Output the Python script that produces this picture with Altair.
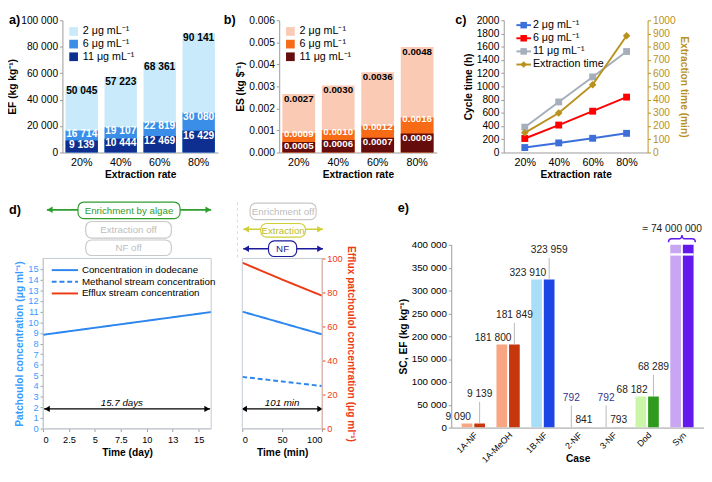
import altair as alt
import pandas as pd

FONT = "Liberation Sans"

# ---------------- data ----------------
rates = ["20%", "40%", "60%", "80%"]
conc = ["2 μg mL⁻¹", "6 μg mL⁻¹", "11 μg mL⁻¹"]

ef_2 = [50045, 57223, 68361, 90141]
ef_6 = [16714, 19107, 22819, 30080]
ef_11 = [9139, 10444, 12469, 16429]

es_2 = [0.00266, 0.00304, 0.00364, 0.00479]
es_6 = [0.00088, 0.00101, 0.00121, 0.00159]
es_11 = [0.00048, 0.00057, 0.00067, 0.00086]

cyc_2 = [75, 145, 215, 290]
cyc_6 = [212, 415, 625, 838]
cyc_11 = [383, 765, 1143, 1528]
ext_min = [149, 299, 513, 883]

d_series = ["Concentration in dodecane", "Methanol stream concentration",
            "Efflux stream concentration"]
day_t = [0, 16.2]
day_dod = [8.82, 10.96]
min_t = [0, 50, 100]
min_dod = [11.0, 9.93, 8.86]
min_meth = [4.86, 4.43, 4.0]
min_eff = [97.5, 87.6, 78.1]
d_ticks = list(range(16))

cases = ["1A-NF", "1A-MeOH", "1B-NF", "2-NF", "3-NF", "Dod", "Syn"]
sc_vals = [9090, 181800, 323910, 792, 792, 68182, 74000000]
ef_vals = [9139, 181849, 323959, 841, 793, 68289, 74000000]

# ---------------- styles ----------------
A_COL = ["#C8EAFA", "#3A8EE8", "#0E2F8F"]
B_COL = ["#FBCAB5", "#F76B16", "#650C0C"]
GOLD = "#B8921C"
C_COL = ["#3D6FDB", "#FF0000", "#A5AEBB", GOLD]
D_BLUE = "#2B86F0"
D_RED = "#EE3A14"
D_LBL_BLUE = "#3A9BFF"
SC_COL = ["#F7A583", "#F7A583", "#A9DEF8", "#C9C6F2", "#C9C6F2", "#CBF5A9", "#C9A6F3"]
EF_COL = ["#C7370E", "#C7370E", "#1B45E4", "#8C8C8C", "#8C8C8C", "#2E9B1F", "#6318EE"]
PURPLE = "#6318EE"
GREEN = "#2E9E2E"
GRAYBOX = "#C8C8C8"
YEL = "#CFCF3A"
NAVY = "#1A1A9A"
AXC = "#999999"
FRAME = "#C3C9D2"

H_TOP = 136
D_SHIFT = 20      # d1 frame starts this many px left of the row origin
D_TOP = 14        # d frames start this many px below the bottom-row origin
D_H = 175
E_H = 188

one = pd.DataFrame({"k": [0]})
THIN = "replace(format(datum.value, ','), regexp(',', 'g'), ' ')"


def thin(v):
    return f"{v:,}".replace(",", " ")


def letter(t, x, y):
    return alt.Chart(one).mark_text(text=t, align="left", baseline="top", fontSize=13,
                                    fontWeight="bold", color="black").encode(
        x=alt.value(x), y=alt.value(y))


def box(x1, x2, y1, y2, label, stroke, tcol):
    r = alt.Chart(one).mark_rect(cornerRadius=6, fill="white", stroke=stroke,
                                 strokeWidth=1.2).encode(
        x=alt.value(x1), x2=alt.value(x2), y=alt.value(y1), y2=alt.value(y2))
    t = alt.Chart(one).mark_text(text=label, color=tcol, fontSize=10).encode(
        x=alt.value((x1 + x2) / 2), y=alt.value((y1 + y2) / 2 + 0.5))
    return [r, t]


def frame(x1, x2, y1, y2):
    return alt.Chart(one).mark_rect(fillOpacity=0, stroke=FRAME, strokeWidth=1).encode(
        x=alt.value(x1), x2=alt.value(x2), y=alt.value(y1), y2=alt.value(y2))


def parrow(x1, x2, y, color):
    r = alt.Chart(one).mark_rule(color=color, strokeWidth=1.6).encode(
        x=alt.value(x1), x2=alt.value(x2), y=alt.value(y))
    a1 = alt.Chart(one).mark_point(shape="triangle-left", filled=True, size=45, color=color,
                                   opacity=1).encode(x=alt.value(x1 + 3), y=alt.value(y))
    a2 = alt.Chart(one).mark_point(shape="triangle-right", filled=True, size=45, color=color,
                                   opacity=1).encode(x=alt.value(x2 - 3), y=alt.value(y))
    return [r, a1, a2]


def leg_entry(x1, x2, y, color, label, tx, fs, dash=None, marker=None):
    rk = dict(color=color, strokeWidth=2)
    if dash:
        rk["strokeDash"] = dash
    out = [alt.Chart(one).mark_rule(**rk).encode(x=alt.value(x1), x2=alt.value(x2),
                                                 y=alt.value(y)),
           alt.Chart(one).mark_text(text=label, align="left", baseline="middle", fontSize=fs,
                                    color="black").encode(x=alt.value(tx), y=alt.value(y))]
    if marker:
        out.append(alt.Chart(one).mark_point(shape=marker, filled=True, size=45, color=color,
                                             opacity=1).encode(
            x=alt.value((x1 + x2) / 2), y=alt.value(y)))
    return out


def xaxis_top():
    return alt.Axis(labelAngle=0, ticks=False, labelFontSize=11, titleFontSize=10.5,
                    titleFontWeight="bold", domainColor=AXC, labelPadding=4, titlePadding=3,
                    grid=False)


# ---------------- panels a & b ----------------
def bar_panel(series, colors, dom, tickvals, axis_fmt, txt_fmt, ytitle, let, let_x, W, lfs,
              dys):
    rows = []
    for i, (lab, vals) in enumerate(zip(conc, series)):
        for r, v in zip(rates, vals):
            rows.append({"rate": r, "conc": lab, "v": v, "o": i, "txt": txt_fmt(v)})
    df = pd.DataFrame(rows)
    x = alt.X("rate:N", sort=rates, title="Extraction rate",
              scale=alt.Scale(paddingInner=0.17, paddingOuter=0.08), axis=xaxis_top())
    yaxis = alt.Axis(values=tickvals, tickCount=20, grid=False, tickSize=3, tickColor=AXC,
                     domainColor=AXC, labelFontSize=10.5, labelPadding=2, titlePadding=3,
                     titleFontSize=10.5, titleFontWeight="bold", **axis_fmt)
    y = alt.Y("v:Q", stack=None, scale=alt.Scale(domain=dom), title=ytitle, axis=yaxis)
    base = alt.Chart(df).encode(x=x, y=y)
    leg = alt.Legend(title=None, orient="top-left", offset=6, symbolType="square",
                     symbolSize=80, labelFontSize=11, rowPadding=1, padding=0,
                     symbolStrokeWidth=0, labelColor="black")
    bars = base.mark_bar().encode(
        color=alt.Color("conc:N", sort=conc, scale=alt.Scale(domain=conc, range=colors),
                        legend=leg),
        order=alt.Order("o:Q"))
    texts = []
    for i in range(3):
        texts.append(base.mark_text(baseline="middle", dy=dys[i], fontWeight="bold",
                                    fontSize=lfs, color="black" if i == 0 else "white")
                     .encode(text="txt:N").transform_filter(alt.datum.o == i))
    return alt.layer(bars, *texts, letter(let, let_x, -6)).properties(width=W, height=H_TOP)


pa = bar_panel([ef_2, ef_6, ef_11], A_COL, [0, 100000], list(range(0, 100001, 20000)),
               {"labelExpr": THIN}, thin, "EF (kg kg⁻¹)", "a)", -55, 160, 10.5, [5, 4, 5])
pb = bar_panel([es_2, es_6, es_11], B_COL, [0, 0.006], [i / 1000 for i in range(7)],
               {"format": ".3f"}, lambda v: f"{v:.4f}", "ES (kg $⁻¹)", "b)", -57, 162, 10,
               [5, 1.5, 4.5])

# ---------------- panel c ----------------
c_series = conc + ["Extraction time"]
crow = []
for lab, vals in zip(conc, [cyc_2, cyc_6, cyc_11]):
    for r, v in zip(rates, vals):
        crow.append({"rate": r, "series": lab, "v": v})
cdf = pd.DataFrame(crow)
edf = pd.DataFrame({"rate": rates, "series": "Extraction time", "v": ext_min})

cx = alt.X("rate:N", sort=rates, title="Extraction rate",
           scale=alt.Scale(type="point", padding=0.62), axis=xaxis_top())
cy = alt.Y("v:Q", scale=alt.Scale(domain=[0, 2000]), title="Cycle time (h)",
           axis=alt.Axis(values=list(range(0, 2001, 200)), tickCount=20, format="d",
                         grid=False, tickSize=3, tickColor=AXC, domainColor=AXC,
                         labelFontSize=10.5, labelPadding=2, titlePadding=3,
                         titleFontSize=10.5, titleFontWeight="bold"))
ey = alt.Y("v:Q", scale=alt.Scale(domain=[0, 1000]), title="Extraction time (min)",
           axis=alt.Axis(orient="right", values=list(range(0, 1001, 100)), tickCount=20,
                         format="d", grid=False, tickSize=3, tickColor=GOLD, domainColor=GOLD,
                         labelColor=GOLD, titleColor=GOLD, labelFontSize=10.5, labelPadding=2,
                         titlePadding=3, titleFontSize=10.5, titleFontWeight="bold"))
ccol = alt.Color("series:N", sort=c_series, scale=alt.Scale(domain=c_series, range=C_COL),
                 legend=None)
c_left = alt.layer(
    alt.Chart(cdf).mark_line(strokeWidth=2).encode(x=cx, y=cy, color=ccol),
    alt.Chart(cdf).mark_point(shape="square", filled=True, size=50, opacity=1).encode(
        x=cx, y=cy, color=ccol))
c_right = alt.layer(
    alt.Chart(edf).mark_line(strokeWidth=2).encode(x=cx, y=ey, color=ccol),
    alt.Chart(edf).mark_point(shape="diamond", filled=True, size=60, opacity=1).encode(
        x=cx, y=ey, color=ccol))
c_leg = []
for i, (name, col) in enumerate(zip(c_series, C_COL)):
    c_leg += leg_entry(13, 28, 5 + 13.5 * i, col, name, 30, 11,
                       marker="diamond" if i == 3 else "square")
pc = alt.layer(c_left, c_right, *c_leg, letter("c)", -50, -6)).resolve_scale(
    y="independent").properties(width=148, height=H_TOP)

# ---------------- panel d ----------------
D_COLS = [D_BLUE, D_BLUE, D_RED]
D_DASH = [[1, 0], [5, 3], [1, 0]]
dcol = alt.Color("series:N", sort=d_series, scale=alt.Scale(domain=d_series, range=D_COLS),
                 legend=None)
ddash = alt.StrokeDash("series:N", sort=d_series,
                       scale=alt.Scale(domain=d_series, range=D_DASH), legend=None)
YR = [D_TOP + D_H, D_TOP]

d1df = pd.DataFrame({"t": day_t, "v": day_dod, "series": d_series[0]})
D1W = 173 - D_SHIFT
d1x = alt.X("t:Q", scale=alt.Scale(domain=[0, 16.2], nice=False, range=[-D_SHIFT, D1W]),
            title="Time (day)",
            axis=alt.Axis(values=[0, 2.5, 5, 7.5, 10, 12.5, 15], tickCount=20, format="~g",
                          grid=False, labelFontSize=9.5, tickSize=3, tickColor=AXC,
                          domainColor=FRAME, labelPadding=3, titlePadding=4,
                          titleFontSize=10.5, titleFontWeight="bold",
                          titleX=(D1W - D_SHIFT) / 2))
d1y = alt.Y("v:Q", scale=alt.Scale(domain=[0, 15], range=YR),
            title="Patchoulol concentration (μg ml⁻¹)",
            axis=alt.Axis(values=d_ticks, tickCount=20, grid=False, labelFontSize=9.5,
                          labelOverlap=False, labelColor=D_LBL_BLUE, labelPadding=2,
                          tickSize=3, tickColor=AXC, domainColor=FRAME, titleColor=D_LBL_BLUE,
                          titlePadding=3, titleFontSize=10.5, titleFontWeight="bold",
                          offset=D_SHIFT))
d1_line = alt.Chart(d1df).mark_line(strokeWidth=2).encode(x=d1x, y=d1y, color=dcol,
                                                           strokeDash=ddash)
d1_arrow = [
    alt.Chart(one).mark_rule(color="black", strokeWidth=1.4).encode(
        x=alt.datum(0.1), x2=alt.datum(16.1), y=alt.datum(1.85)),
    alt.Chart(one).mark_point(shape="triangle-left", filled=True, size=40, color="black",
                              opacity=1).encode(x=alt.datum(0.4), y=alt.datum(1.85)),
    alt.Chart(one).mark_point(shape="triangle-right", filled=True, size=40, color="black",
                              opacity=1).encode(x=alt.datum(15.8), y=alt.datum(1.85)),
    alt.Chart(one).mark_text(text="15.7 days", fontStyle="italic", fontSize=10,
                             baseline="bottom", dy=-1).encode(x=alt.datum(7.6),
                                                              y=alt.datum(1.85)),
]
sx, sy = -D_SHIFT, D_TOP
d1_ann = ([frame(sx, D1W, D_TOP, D_TOP + D_H)]
          + parrow(4 + sx, 173 + sx, -50 + sy, GREEN)
          + box(36 + sx, 141 + sx, -58 + sy, -41 + sy, "Enrichment by algae", GREEN, GREEN)
          + box(44 + sx, 132 + sx, -38 + sy, -21 + sy, "Extraction off", GRAYBOX, "#BDBDBD")
          + box(44 + sx, 132 + sx, -19 + sy, -3 + sy, "NF off", GRAYBOX, "#BDBDBD")
          + [letter("d)", -55, -42)])
d_leg = []
for i, (name, col, dash) in enumerate(zip(d_series, D_COLS, D_DASH)):
    d_leg += leg_entry(9 + sx, 36 + sx, 12 * (i + 1) + sy, col, name, 40 + sx, 10,
                       dash=dash if i == 1 else None)
pd1 = alt.layer(d1_line, *d1_arrow, *d1_ann, *d_leg).properties(
    width=D1W, height=D_TOP + D_H)

d2df = pd.DataFrame({"t": min_t + min_t, "v": min_dod + min_meth,
                     "series": [d_series[0]] * 3 + [d_series[1]] * 3})
d2e = pd.DataFrame({"t": min_t, "v": min_eff, "series": d_series[2]})
d2x = alt.X("t:Q", scale=alt.Scale(domain=[0, 100], nice=False), title="Time (min)",
            axis=alt.Axis(values=[0, 50, 100], tickCount=20, grid=False, labelFontSize=9.5,
                          tickSize=3, tickColor=AXC, domainColor=FRAME, labelPadding=3,
                          titlePadding=4, titleFontSize=10.5, titleFontWeight="bold"))
d2yl = alt.Y("v:Q", scale=alt.Scale(domain=[0, 15], range=YR), axis=None)
d2yr = alt.Y("v:Q", scale=alt.Scale(domain=[0, 100], range=YR),
             title="Efflux patchoulol concentration (μg ml⁻¹)",
             axis=alt.Axis(orient="right", values=list(range(0, 101, 20)), tickCount=20,
                           grid=False, labelFontSize=9.5, tickSize=3, tickColor=D_RED,
                           domainColor="#F2A08C", labelColor=D_RED, titleColor=D_RED,
                           labelPadding=2, titlePadding=3, titleFontSize=10.5,
                           titleFontWeight="bold"))
d2_left = alt.layer(
    alt.Chart(d2df).mark_line(strokeWidth=2).encode(x=d2x, y=d2yl, color=dcol,
                                                    strokeDash=ddash),
    alt.Chart(one).mark_rule(color="black", strokeWidth=1.4).encode(
        x=alt.datum(0.5), x2=alt.datum(99.5), y=alt.datum(1.85)),
    alt.Chart(one).mark_point(shape="triangle-left", filled=True, size=40, color="black",
                              opacity=1).encode(x=alt.datum(2.5), y=alt.datum(1.85)),
    alt.Chart(one).mark_point(shape="triangle-right", filled=True, size=40, color="black",
                              opacity=1).encode(x=alt.datum(97.5), y=alt.datum(1.85)),
    alt.Chart(one).mark_text(text="101 min", fontStyle="italic", fontSize=10,
                             baseline="bottom", dy=-1).encode(x=alt.datum(50),
                                                              y=alt.datum(1.85)),
)
d2_right = alt.Chart(d2e).mark_line(strokeWidth=2).encode(x=d2x, y=d2yr, color=dcol,
                                                           strokeDash=ddash)
d2_ann = ([frame(0, 82, D_TOP, D_TOP + D_H),
           alt.Chart(one).mark_rule(color="#D8D8D8", strokeDash=[3, 3]).encode(
               x=alt.value(-5), y=alt.value(-58 + sy), y2=alt.value(sy))]
          + box(8, 76, -57 + sy, -40 + sy, "Enrichment off", GRAYBOX, "#BDBDBD")
          + parrow(1, 83, -30 + sy, YEL)
          + box(19, 65, -36 + sy, -22 + sy, "Extraction", YEL, "#BDBD2A")
          + parrow(1, 83, -10 + sy, NAVY)
          + box(27, 56, -18 + sy, -2 + sy, "NF", NAVY, NAVY))
pd2 = alt.layer(d2_left, d2_right, *d2_ann).resolve_scale(y="independent").properties(
    width=82, height=D_TOP + D_H)

# ---------------- panel e ----------------
LIFT = 50000
erows = []
for i, c in enumerate(cases):
    raised = "SC" if sc_vals[i] < 5000 else "EF"
    for kind, v, col in (("SC", sc_vals[i], SC_COL[i]), ("EF", ef_vals[i], EF_COL[i])):
        is_r = kind == raised
        if kind == "SC":
            grp = "sc_hi" if is_r else "sc_low"
        else:
            grp = "ef"
        erows.append({"case": c, "kind": kind, "v": v, "col": col,
                      "txt": thin(v), "ly": v + LIFT if is_r else v,
                      "ly2": v + LIFT - 2500, "raised": is_r, "grp": grp,
                      "lab": c != "Syn"})
edf2 = pd.DataFrame(erows)
ex = alt.X("case:N", sort=cases, title="Case",
           scale=alt.Scale(paddingInner=0.33, paddingOuter=0.3),
           axis=alt.Axis(labelAngle=315, labelAlign="right", labelBaseline="top",
                         labelFontSize=9, ticks=False, domainColor=AXC, labelPadding=3,
                         titleY=27, titleBaseline="top", titleFontSize=10.5,
                         titleFontWeight="bold"))
exo = alt.XOffset("kind:N", sort=["SC", "EF"], scale=alt.Scale(paddingInner=0.15))
eyy = alt.Y("v:Q", scale=alt.Scale(domain=[0, 400000]), title="SC, EF (kg kg⁻¹)",
            axis=alt.Axis(values=list(range(0, 400001, 50000)), tickCount=20,
                          labelExpr=THIN, grid=False, labelOverlap=False,
                          tickSize=3, tickColor=AXC, domainColor=AXC, labelFontSize=10,
                          labelPadding=2, titlePadding=3, titleFontSize=10.5,
                          titleFontWeight="bold"))
e_bars = alt.Chart(edf2).mark_bar(clip=True).encode(
    x=ex, xOffset=exo, y=eyy, color=alt.Color("col:N", scale=None))
e_break = alt.Chart(pd.DataFrame({"case": ["Syn"]})).mark_bar(color="white").encode(
    x=ex, y=alt.datum(376500), y2=alt.datum(381500))
lab_src = alt.Chart(edf2).transform_filter(alt.datum.lab)
e_lead = lab_src.transform_filter(alt.datum.raised).mark_rule(
    color="#B8B8B8", strokeWidth=1).encode(x=ex, xOffset=exo, y="v:Q", y2="ly2:Q")
e_t1 = lab_src.transform_filter(alt.datum.grp == "sc_low").mark_text(
    baseline="bottom", dy=-2, dx=-9, fontSize=10.5, color="#222").encode(
    x=ex, xOffset=exo, y="ly:Q", text="txt:N")
e_t2 = lab_src.transform_filter(alt.datum.grp == "ef").mark_text(
    baseline="bottom", dy=-2, fontSize=10.5, color="#222").encode(
    x=ex, xOffset=exo, y="ly:Q", text="txt:N")
e_t3 = lab_src.transform_filter(alt.datum.grp == "sc_hi").mark_text(
    baseline="bottom", dy=-2, fontSize=10.5, color="#34348C").encode(
    x=ex, xOffset=exo, y="ly:Q", text="txt:N")
BRACE = ("M-1,0.28 Q-1,0.02 -0.75,0.02 L-0.2,0.02 Q-0.02,0.02 0,-0.26 "
         "Q0.02,0.02 0.2,0.02 L0.75,0.02 Q1,0.02 1,0.28")
syn = alt.Chart(pd.DataFrame({"case": ["Syn"]}))
e_brace = syn.mark_point(shape=BRACE, size=760, filled=False, stroke=PURPLE, strokeWidth=1.5,
                         opacity=1).encode(x=ex, y=alt.datum(414000))
e_big = syn.mark_text(text="≈ 74 000 000", fontSize=10.5, dx=-10, color="#222").encode(
    x=ex, y=alt.datum(434000))
pe = alt.layer(e_bars, e_break, e_lead, e_t1, e_t2, e_t3, e_brace, e_big,
               letter("e)", -55, -44)).properties(width=260, height=E_H)

# ---------------- layout ----------------
RES = dict(color="independent", strokeDash="independent")
top = alt.hconcat(alt.hconcat(pa, pb, spacing=6).resolve_scale(**RES), pc,
                  spacing=19).resolve_scale(**RES)
bottom = alt.hconcat(alt.hconcat(pd1, pd2, spacing=6).resolve_scale(**RES), pe,
                     spacing=44).resolve_scale(**RES)
chart = alt.vconcat(top, bottom, spacing=21).resolve_scale(**RES).properties(
    padding=0).configure(font=FONT).configure_view(stroke=None)

chart.save("out.html", embed_options={"renderer": "svg", "actions": False})
